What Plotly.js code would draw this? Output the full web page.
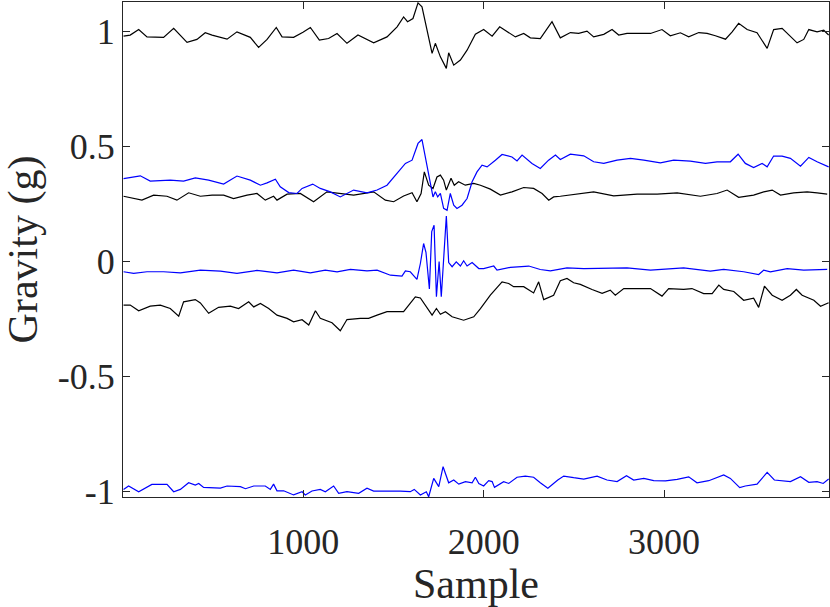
<!DOCTYPE html>
<html>
<head>
<meta charset="utf-8">
<script src="https://cdn.plot.ly/plotly-3.0.1.min.js"></script>
<style>html,body{margin:0;padding:0;background:#fff;}#chart{width:830px;height:607px;}</style>
</head>
<body>
<div id="chart"></div>
<script>
// Series A: black, near +1
const xA = [3,40,87,133,225,281,355,410,456,494,577,632,706,752,799,850,882,946,998,1039,1089,1140,1187,1242,1303,1390,1464,1520,1556,1578,1608,1636,1658,1686,1714,1732,1760,1793,1806,1834,1871,1908,1954,2000,2047,2089,2130,2176,2222,2259,2314,2379,2425,2481,2527,2573,2610,2666,2712,2749,2795,2851,2925,2989,3035,3091,3137,3193,3239,3285,3341,3378,3414,3461,3516,3572,3608,3655,3692,3738,3775,3803,3849,3886,3913];
const yA = [0.981,0.986,1.010,0.978,0.976,1.015,0.954,0.967,0.996,0.986,0.968,1.000,0.976,0.932,0.967,1.019,0.978,0.976,0.998,1.019,0.964,0.971,0.993,0.950,0.986,0.952,0.978,1.022,1.065,1.044,1.058,1.126,1.109,1.007,0.906,0.950,0.891,0.841,0.909,0.855,0.877,0.920,0.990,1.010,0.981,1.022,1.000,0.978,0.993,0.974,0.971,1.044,0.974,0.997,0.993,1.003,0.978,0.989,1.010,0.986,0.993,0.993,0.993,1.010,0.983,0.996,0.978,0.997,0.993,0.983,0.968,1.000,1.037,1.010,0.996,0.928,1.010,1.015,0.986,0.952,0.967,1.010,1.000,1.007,0.986];

// Series B: blue, near +0.4
const xB = [3,96,151,262,336,401,475,558,632,706,762,799,845,872,919,965,993,1052,1094,1150,1205,1279,1353,1409,1464,1520,1566,1603,1636,1658,1686,1704,1719,1732,1745,1760,1778,1797,1815,1834,1852,1880,1908,1936,1963,1991,2019,2065,2102,2157,2185,2213,2268,2314,2360,2398,2425,2481,2555,2610,2666,2740,2814,2888,2980,3054,3146,3230,3294,3368,3411,3451,3497,3544,3572,3608,3655,3701,3757,3803,3849,3913];
const yB = [0.361,0.373,0.350,0.354,0.350,0.364,0.354,0.337,0.372,0.354,0.332,0.342,0.358,0.325,0.300,0.296,0.318,0.337,0.318,0.303,0.281,0.311,0.299,0.311,0.332,0.383,0.427,0.441,0.514,0.531,0.412,0.340,0.281,0.303,0.281,0.296,0.231,0.223,0.296,0.245,0.231,0.245,0.274,0.347,0.390,0.419,0.412,0.441,0.466,0.455,0.438,0.463,0.427,0.405,0.441,0.463,0.444,0.467,0.460,0.434,0.427,0.441,0.449,0.441,0.429,0.441,0.437,0.427,0.434,0.434,0.467,0.427,0.409,0.427,0.412,0.459,0.459,0.449,0.415,0.453,0.434,0.412];

// Series C: black, near +0.29
const xC = [3,105,170,244,299,364,429,494,558,613,688,743,789,835,854,910,983,1057,1131,1205,1279,1390,1455,1501,1556,1603,1630,1653,1671,1695,1719,1741,1760,1778,1793,1819,1837,1861,1898,1945,1982,2037,2093,2157,2222,2277,2324,2361,2388,2425,2518,2610,2721,2851,2962,3073,3202,3294,3350,3414,3497,3553,3600,3646,3719,3794,3849,3905];
const yC = [0.284,0.267,0.289,0.284,0.267,0.299,0.284,0.289,0.289,0.274,0.289,0.296,0.267,0.284,0.267,0.293,0.296,0.260,0.303,0.296,0.289,0.303,0.267,0.260,0.285,0.299,0.260,0.296,0.390,0.332,0.318,0.368,0.376,0.354,0.311,0.362,0.332,0.347,0.332,0.340,0.332,0.315,0.289,0.303,0.322,0.318,0.296,0.267,0.281,0.284,0.293,0.303,0.286,0.293,0.293,0.299,0.284,0.296,0.311,0.279,0.289,0.303,0.311,0.289,0.299,0.303,0.299,0.293];

// Series D: blue, near -0.04
const xD = [3,59,133,225,318,429,540,632,743,854,946,1039,1122,1187,1261,1353,1409,1483,1547,1566,1593,1630,1649,1667,1680,1699,1712,1725,1738,1753,1765,1778,1793,1806,1825,1848,1871,1889,1908,1936,1973,2000,2056,2074,2148,2250,2314,2370,2462,2555,2684,2795,2925,3035,3109,3257,3331,3442,3525,3553,3590,3683,3775,3905];
const yD = [-0.045,-0.052,-0.045,-0.045,-0.050,-0.038,-0.042,-0.052,-0.039,-0.050,-0.038,-0.050,-0.038,-0.045,-0.035,-0.041,-0.038,-0.060,-0.064,-0.041,-0.045,-0.078,-0.009,0.078,0.040,-0.120,0.130,0.158,-0.154,0.000,-0.154,0.020,0.198,-0.005,-0.023,-0.002,-0.020,0.003,-0.020,-0.005,-0.031,-0.031,-0.020,-0.038,-0.026,-0.020,-0.035,-0.041,-0.028,-0.031,-0.031,-0.028,-0.038,-0.031,-0.028,-0.042,-0.035,-0.045,-0.057,-0.038,-0.045,-0.031,-0.038,-0.035];

// Series E: black, near -0.2
const xE = [3,40,87,151,207,262,309,336,401,429,475,530,595,641,697,725,762,808,854,910,946,993,1030,1067,1094,1159,1205,1242,1316,1362,1409,1464,1556,1621,1649,1714,1738,1760,1788,1825,1889,1945,1982,2037,2102,2139,2166,2222,2277,2305,2333,2388,2425,2462,2499,2536,2601,2657,2702,2730,2777,2851,2925,2989,3026,3109,3155,3220,3267,3304,3331,3387,3442,3497,3525,3557,3600,3655,3701,3734,3766,3831,3868,3913];
const yE = [-0.190,-0.190,-0.215,-0.195,-0.190,-0.205,-0.238,-0.176,-0.166,-0.181,-0.226,-0.200,-0.195,-0.205,-0.176,-0.198,-0.183,-0.205,-0.234,-0.248,-0.263,-0.254,-0.277,-0.215,-0.248,-0.267,-0.302,-0.253,-0.248,-0.248,-0.234,-0.219,-0.219,-0.154,-0.159,-0.234,-0.205,-0.230,-0.219,-0.241,-0.256,-0.241,-0.205,-0.147,-0.089,-0.096,-0.110,-0.110,-0.137,-0.089,-0.166,-0.147,-0.084,-0.074,-0.093,-0.100,-0.122,-0.139,-0.125,-0.147,-0.118,-0.118,-0.118,-0.151,-0.118,-0.122,-0.118,-0.140,-0.140,-0.103,-0.122,-0.131,-0.169,-0.160,-0.200,-0.108,-0.147,-0.169,-0.147,-0.122,-0.147,-0.169,-0.195,-0.180];

// Series F: blue, near -1
const xF = [3,31,87,160,244,281,318,364,401,420,447,540,577,651,679,725,789,817,835,854,891,946,993,1011,1048,1094,1122,1168,1196,1242,1307,1353,1390,1464,1538,1593,1615,1649,1682,1695,1723,1751,1775,1806,1834,1862,1899,1936,1954,1973,2000,2028,2047,2060,2111,2139,2185,2231,2277,2314,2356,2411,2444,2499,2555,2629,2684,2740,2792,2832,2888,2943,3008,3073,3137,3183,3248,3331,3368,3420,3451,3516,3549,3572,3612,3664,3701,3757,3803,3849,3883,3913];
const yF = [-0.993,-0.978,-1.003,-0.971,-0.971,-1.003,-0.993,-0.964,-0.974,-0.967,-0.984,-0.987,-0.978,-0.981,-0.990,-0.978,-0.978,-0.993,-0.970,-0.999,-0.999,-1.017,-1.003,-1.017,-1.000,-0.993,-1.003,-0.978,-1.010,-1.003,-1.010,-0.988,-1.000,-0.999,-1.000,-1.003,-0.993,-1.017,-1.003,-1.025,-0.945,-0.981,-0.894,-0.964,-0.952,-0.970,-0.959,-0.964,-0.940,-0.967,-0.978,-0.955,-0.959,-0.984,-0.959,-0.967,-0.940,-0.935,-0.940,-0.964,-0.988,-0.952,-0.935,-0.942,-0.948,-0.935,-0.952,-0.959,-0.933,-0.952,-0.945,-0.955,-0.956,-0.949,-0.938,-0.964,-0.955,-0.930,-0.945,-0.985,-0.978,-0.970,-0.938,-0.919,-0.952,-0.955,-0.959,-0.938,-0.962,-0.959,-0.967,-0.948];

// Tick labels
const xTickVals = [1000, 2000, 3000];
const xTickText = ['1000', '2000', '3000'];
const yTickVals = [-1, -0.5, 0, 0.5, 1];
const yTickText = ['-1', '-0.5', '0', '0.5', '1'];

const BLACK = '#000000';
const BLUE = '#0000ff';
const LW = 1.2;

function line(x, y, color, name) {
  return {x: x, y: y, type: 'scatter', mode: 'lines', name: name,
          line: {color: color, width: LW}, hoverinfo: 'skip'};
}

const traces = [
  line(xA, yA, BLACK, 'A'),
  line(xC, yC, BLACK, 'C'),
  line(xE, yE, BLACK, 'E'),
  line(xB, yB, BLUE, 'B'),
  line(xD, yD, BLUE, 'D'),
  line(xF, yF, BLUE, 'F')
];

const FONT = 'Liberation Serif, Times New Roman, serif';
const AX = '#262626';

const layout = {
  width: 830, height: 607,
  margin: {l: 123, r: 1, t: 2, b: 110, pad: 0},
  paper_bgcolor: '#ffffff', plot_bgcolor: '#ffffff',
  showlegend: false,
  font: {family: FONT, color: AX, size: 36},
  xaxis: {
    range: [0, 3915], showgrid: false, zeroline: false,
    showline: true, linecolor: AX, linewidth: 1, mirror: 'ticks',
    ticks: 'inside', ticklen: 7, tickcolor: AX, tickwidth: 1,
    tickvals: xTickVals, ticktext: xTickText,
    ticklabelstandoff: 13,
    tickfont: {family: FONT, size: 36, color: AX},
    title: {text: 'Sample', font: {family: FONT, size: 42, color: AX}, standoff: 0},
    automargin: false, fixedrange: true
  },
  yaxis: {
    range: [-1.026, 1.13], showgrid: false, zeroline: false,
    showline: true, linecolor: AX, linewidth: 1, mirror: 'ticks',
    ticks: 'inside', ticklen: 7, tickcolor: AX, tickwidth: 1,
    tickvals: yTickVals, ticktext: yTickText,
    tickfont: {family: FONT, size: 36, color: AX},
    title: {text: 'Gravity (g)', font: {family: FONT, size: 42, color: AX}, standoff: 14},
    automargin: false, fixedrange: true
  }
};

Plotly.newPlot('chart', traces, layout, {displayModeBar: false, staticPlot: true});
</script>
</body>
</html>
